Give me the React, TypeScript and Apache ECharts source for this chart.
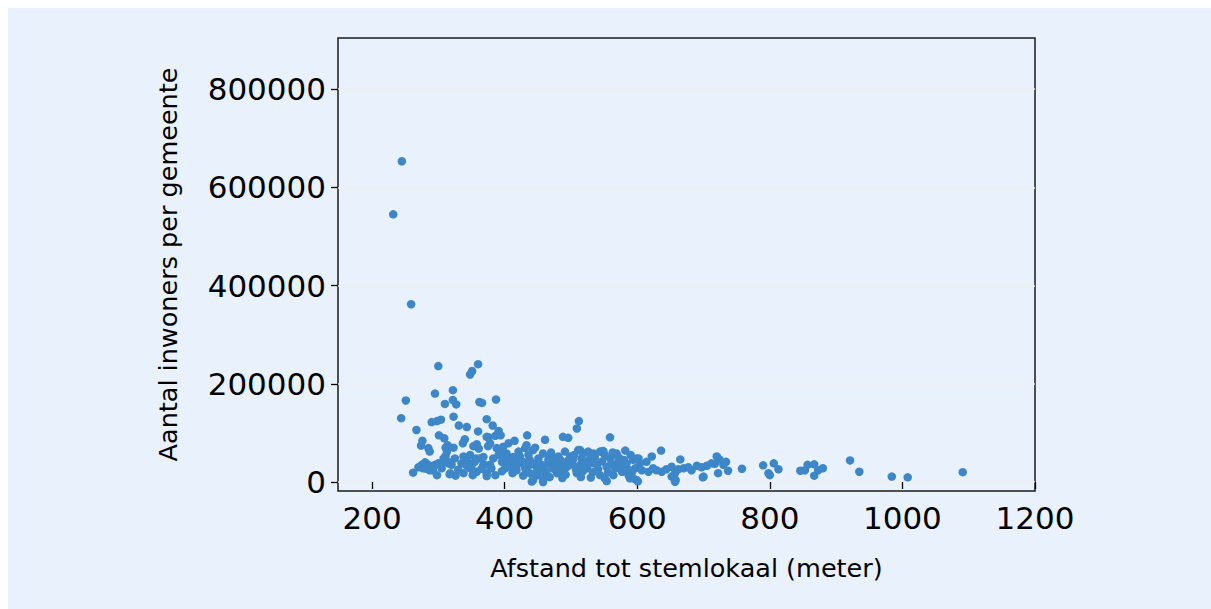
import React, { useEffect, useRef } from "react";
import * as echarts from "echarts";

const afstand = [
  245, 232, 259, 300, 360, 348, 351, 295, 322, 251, 244, 310, 322, 327, 362, 366, 387, 290, 298, 304,
  323, 331, 343, 267, 360, 373, 382, 391, 394, 386, 376, 301, 309, 276, 274, 340, 337, 285, 287, 311,
  314, 323, 313, 375, 378, 373, 353, 358, 361, 406, 415, 434, 461, 488, 496, 509, 512, 559, 582, 636,
  665, 262, 275, 280, 282, 277, 292, 295, 305, 308, 311, 318, 320, 325, 318, 335, 338, 344, 348, 350,
  358, 355, 363, 368, 373, 378, 383, 391, 396, 401, 393, 388, 398, 282, 287, 300, 310, 315, 317, 340,
  343, 338, 348, 357, 368, 370, 373, 380, 398, 401, 403, 411, 416, 421, 426, 418, 431, 433, 438, 443,
  450, 458, 443, 438, 448, 458, 466, 471, 478, 483, 488, 498, 503, 508, 403, 413, 421, 431, 433, 443,
  446, 458, 468, 476, 484, 491, 499, 511, 519, 526, 534, 544, 549, 559, 567, 571, 418, 428, 438, 448,
  456, 466, 484, 494, 501, 514, 524, 531, 539, 554, 567, 577, 587, 443, 458, 479, 509, 544, 564, 441,
  458, 574, 584, 594, 602, 604, 614, 622, 597, 607, 617, 624, 629, 637, 644, 652, 657, 662, 670, 677,
  682, 690, 697, 705, 712, 589, 599, 652, 657, 700, 720, 724, 734, 730, 758, 722, 737, 717, 699, 658,
  594, 569, 546, 529, 514, 599, 790, 798, 806, 813, 800, 846, 853, 857, 867, 867, 873, 880, 921, 935,
  984, 1008, 1091, 410, 423, 436, 451, 463, 470, 474, 481, 486, 492, 496, 505, 507, 516, 518, 521,
  528, 533, 536, 541, 547, 551, 556, 561, 563, 572, 576, 580, 585, 590, 592, 468, 487, 515, 530, 551,
  473, 453, 428, 412, 406, 396, 386, 365, 352, 330, 326, 305, 298, 288, 270, 554, 601,
];

const inwoners = [
  653000, 545000, 362000, 236000, 240000, 219000, 226000, 180000, 187000, 166000, 130000, 159000, 167000, 158000, 163000, 161000, 168000, 122000, 124000, 127000,
  133000, 115000, 112000, 106000, 103000, 128000, 115000, 104000, 95000, 94000, 91000, 95000, 89000, 84000, 74000, 87000, 79000, 69000, 62000, 70000,
  75000, 70000, 62000, 73000, 79000, 92000, 73000, 77000, 68000, 79000, 84000, 95000, 86000, 92000, 90000, 109000, 124000, 91000, 64000, 64000,
  46000, 19000, 35000, 40000, 27000, 28000, 24000, 35000, 38000, 48000, 53000, 18000, 35000, 48000, 40000, 38000, 52000, 41000, 55000, 31000,
  21000, 41000, 48000, 35000, 18000, 35000, 48000, 55000, 41000, 28000, 62000, 69000, 72000, 38000, 24000, 38000, 45000, 38000, 16000, 45000,
  33000, 18000, 28000, 48000, 51000, 35000, 12000, 28000, 48000, 35000, 51000, 45000, 35000, 45000, 38000, 24000, 28000, 21000, 18000, 16000,
  14000, 4000, 4000, 35000, 38000, 28000, 45000, 35000, 38000, 28000, 21000, 35000, 45000, 24000, 58000, 51000, 62000, 69000, 75000, 65000,
  70000, 58000, 55000, 41000, 45000, 62000, 52000, 65000, 58000, 62000, 58000, 62000, 63000, 48000, 56000, 41000, 35000, 41000, 45000, 31000,
  35000, 38000, 28000, 31000, 38000, 35000, 28000, 38000, 35000, 31000, 28000, 21000, 14000, 14000, 8000, 18000, 18000, 14000, 14000, 1000,
  0, 31000, 38000, 45000, 48000, 38000, 41000, 52000, 28000, 24000, 21000, 28000, 24000, 21000, 26000, 31000, 18000, 26000, 28000, 30000,
  24000, 33000, 30000, 33000, 38000, 7500, 4000, 11000, 600, 11000, 52000, 46000, 41000, 35000, 27000, 18000, 23000, 37000, 9500, 4000,
  7500, 58000, 62000, 58000, 65000, 48000, 34000, 18000, 38000, 26000, 14000, 23000, 24000, 35000, 36000, 13000, 24000, 28000, 44000, 21000,
  11000, 9500, 20000, 30000, 52000, 55000, 48000, 22000, 60000, 27000, 52000, 36000, 15000, 44000, 55000, 30000, 48000, 22000, 40000,
  45000, 20000, 50000, 26000, 42000, 55000, 20000, 36000, 60000, 50000, 33000, 45000, 27000, 55000, 20000, 10000, 8000, 10000, 9000, 8000,
  49000, 20000, 13000, 18000, 42000, 22000, 14000, 27000, 14000, 25000, 13000, 28000, 14000, 33000, 30000, 2000, 1500,
];

const xTicks = [200, 400, 600, 800, 1000, 1200];
const yTicks = [0, 200000, 400000, 600000, 800000];
const xLabel = "Afstand tot stemlokaal (meter)";
const yLabel = "Aantal inwoners per gemeente";

const panel = "#E9F1FD";

export default function App() {
  const ref = useRef<HTMLDivElement>(null);
  useEffect(() => {
    document.body.style.margin = "0";
    document.body.style.overflow = "hidden";
    const chart = echarts.init(ref.current as HTMLDivElement, null, { renderer: "svg" });
    const data = afstand.map((x, i) => [x, inwoners[i]]);
    const ink = "#000000";
    chart.setOption({
      animation: false,
      backgroundColor: panel,
      textStyle: { fontFamily: "DejaVu Sans" },
      grid: {
        left: 330,
        top: 30,
        right: 176,
        bottom: 118,
        show: true,
        borderColor: "#1a1a1a",
        borderWidth: 1.5,
        backgroundColor: "transparent",
      },
      xAxis: {
        type: "value",
        min: 148.7,
        max: 1200,
        name: xLabel,
        nameLocation: "middle",
        nameGap: 64,
        nameTextStyle: { fontSize: 25.5, color: ink, fontFamily: "DejaVu Sans" },
        axisLine: { show: false },
        axisTick: { show: true, customValues: xTicks, length: 7, lineStyle: { color: ink, width: 1.3 } },
        axisLabel: {
          customValues: xTicks,
          fontSize: 31,
          color: ink,
          margin: 11,
          formatter: (v: number) => String(v),
        },
        splitLine: { show: false },
      },
      yAxis: {
        type: "value",
        min: -18300,
        max: 904000,
        name: yLabel,
        nameLocation: "middle",
        nameGap: 157,
        nameTextStyle: { fontSize: 25.5, color: ink, fontFamily: "DejaVu Sans" },
        axisLine: { show: false },
        axisTick: { show: true, customValues: yTicks, length: 7, lineStyle: { color: ink, width: 1.3 } },
        axisLabel: {
          customValues: yTicks,
          fontSize: 31,
          color: ink,
          margin: 12,
          formatter: (v: number) => String(v),
        },
        splitLine: { show: true, lineStyle: { color: "#EEEEEC", width: 1.5 } },
      },
      series: [
        {
          type: "scatter",
          data,
          symbolSize: 8.5,
          clip: true,
          itemStyle: { color: "#3D87C8", opacity: 1 },
        },
      ],
    });
    return () => chart.dispose();
  }, []);
  return (
    <div style={{ position: "fixed", left: 0, top: 0, width: "100vw", height: "100vh", background: panel }}>
      <div style={{ position: "absolute", left: 0, top: 0, width: "100%", height: 8, background: "#ffffff" }} />
      <div style={{ position: "absolute", left: 0, top: 0, width: 8, height: "100%", background: "#ffffff" }} />
      <div ref={ref} style={{ position: "absolute", left: 8, top: 8, width: 1203, height: 601 }} />
    </div>
  );
}
